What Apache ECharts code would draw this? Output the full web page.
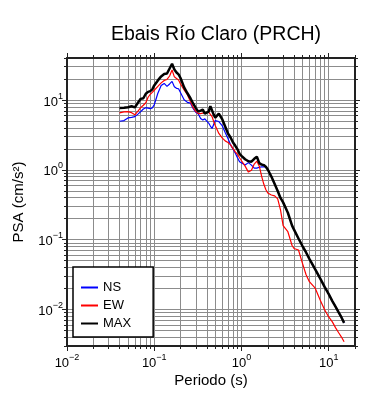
<!DOCTYPE html>
<html>
<head>
<meta charset="utf-8">
<script src="https://cdn.jsdelivr.net/npm/echarts@6/dist/echarts.min.js"></script>
<style>
  html, body { margin: 0; padding: 0; background: #fff; }
  #chart { width: 390px; height: 400px; }
</style>
</head>
<body>
<div id="chart"></div>
<script>
// periods (s) and pseudo-spectral accelerations (cm/s2)
const periods = [0.04, 0.045, 0.05, 0.055, 0.06, 0.065, 0.07, 0.075, 0.08, 0.085, 0.09, 0.095,
  0.1, 0.11, 0.12, 0.13, 0.14, 0.15, 0.16, 0.17, 0.18, 0.19, 0.2,
  0.22, 0.24, 0.26, 0.28, 0.3, 0.32, 0.34, 0.36, 0.38, 0.4, 0.42, 0.44, 0.46, 0.48,
  0.5, 0.55, 0.6, 0.65, 0.7, 0.75, 0.8, 0.85, 0.9, 0.95,
  1.0, 1.1, 1.2, 1.3, 1.4, 1.5, 1.6, 1.7, 1.8, 1.9,
  2.0, 2.2, 2.4, 2.6, 2.8, 3.0,
  3.4, 3.8, 4.0, 4.5, 5.0, 5.5, 6.0,
  7, 8, 9, 10, 11, 12, 13, 14, 15];

const ns = [4.97, 5.08, 5.55, 5.64, 5.79, 6.29, 6.82, 7.45, 7.77, 7.65, 7.52, 7.72,
  8.57, 12.5, 16.2, 17.3, 15.7, 17.0, 18.5, 15.5, 14.7, 14.5, 13.8,
  10.1, 9.25, 9.01, 7.52, 6.67, 6.29, 5.43, 5.17, 5.37, 5.00, 4.68, 4.24, 3.91, 4.04,
  5.08, 4.92, 4.31, 3.43, 2.82, 2.28, 1.97, 1.73, 1.49, 1.31,
  1.25, 1.17, 1.27, 1.17, 1.06, 1.06, 1.09, 1.10, 1.10, 1.10,
  1.01, 0.801, 0.626, 0.498, 0.396, 0.342,
  0.243, 0.159, 0.139, 0.104, 0.0811, 0.0656, 0.0530,
  0.0376, 0.0276, 0.0209, 0.0166, 0.0132, 0.0109, 0.00907, 0.0077, 0.00643];

const ew = [6.54, 6.75, 6.82, 6.60, 6.14, 6.93, 7.77, 8.43, 9.15, 10.96, 12.1, 12.9,
  13.8, 15.7, 17.6, 19.1, 19.7, 22.1, 26.9, 21.5, 20.4, 19.4, 17.0,
  14.0, 11.9, 9.46, 7.77, 6.82, 6.39, 6.39, 6.50, 6.60, 6.71, 6.71, 6.50, 5.79, 4.92,
  4.31, 3.32, 2.87, 2.60, 2.47, 2.28, 2.01, 1.81, 1.67, 1.49,
  1.35, 1.13, 0.928, 0.990, 1.21, 1.33, 1.13, 0.814, 0.626, 0.523,
  0.467, 0.437, 0.423, 0.384, 0.268, 0.159,
  0.130, 0.0824, 0.0747, 0.0712, 0.0458, 0.0314, 0.0250,
  0.0202, 0.0136, 0.00984, 0.00782, 0.00664, 0.00546, 0.00464, 0.00403, 0.00345];

const maxv = [7.70, 7.77, 7.90, 8.16, 7.85, 9.15, 10.4, 10.6, 12.3, 13.1, 13.4, 14.2,
  16.2, 19.1, 21.8, 23.6, 24.0, 28.3, 33.0, 27.4, 24.8, 23.3, 20.7,
  15.2, 12.5, 10.6, 8.86, 7.65, 6.82, 7.05, 7.28, 6.39, 6.50, 6.82, 8.16, 8.03, 6.18,
  5.61, 6.39, 5.34, 4.18, 3.32, 2.91, 2.47, 2.21, 1.97, 1.70,
  1.59, 1.42, 1.33, 1.31, 1.44, 1.54, 1.25, 1.19, 1.17, 1.11,
  1.01, 0.801, 0.626, 0.498, 0.396, 0.342,
  0.243, 0.159, 0.139, 0.104, 0.0811, 0.0656, 0.0530,
  0.0376, 0.0276, 0.0209, 0.0166, 0.0132, 0.0109, 0.00907, 0.0077, 0.00643];

const xRange = [0.01, 20];
const yRange = [0.003, 40];
const xMajor = [0.01, 0.1, 1, 10];
const yMajor = [0.01, 0.1, 1, 10];

// 1..9 x 10^k positions inside a range (tick/grid positions)
function minorValues(r) {
  const out = [];
  for (let e = -4; e <= 3; e++) {
    for (let m = 1; m <= 9; m++) {
      const v = +(m * Math.pow(10, e)).toPrecision(6);
      if (v >= r[0] && v <= r[1]) out.push(v);
    }
  }
  return out;
}
const xMinor = minorValues(xRange);
const yMinor = minorValues(yRange);

const FONT = 'Liberation Sans';
const frame = { color: '#222', width: 2 };
const gridLine = { color: '#8c8c8c', width: 1 };

function powLabel(v) {
  const e = Math.round(Math.log10(v));
  return '{b|10}{s|' + (e < 0 ? '\u2212' + (-e) : e) + '}';
}
const labelRich = {
  b: { fontSize: 13, fontFamily: FONT, color: '#000', lineHeight: 17, verticalAlign: 'bottom' },
  s: { fontSize: 9, fontFamily: FONT, color: '#000', lineHeight: 11, verticalAlign: 'top' }
};

function makeAxis(range, pos, minor, major, withLine, withLabel, extra) {
  return Object.assign({
    type: 'log',
    logBase: 10,
    position: pos,
    min: range[0],
    max: range[1],
    axisLine: { show: withLine, onZero: false, lineStyle: frame },
    axisTick: {
      show: true,
      inside: false,
      length: minor ? 3 : 5,
      customValues: minor ? minor : major,
      lineStyle: { color: '#222', width: 1 }
    },
    axisLabel: withLabel ? {
      show: true,
      customValues: major,
      formatter: powLabel,
      rich: labelRich
    } : { show: false },
    splitLine: { show: false },
    minorTick: { show: false },
    axisPointer: { show: false }
  }, extra || {});
}

const xAxes = [
  makeAxis(xRange, 'bottom', xMinor, null, true, false, {
    splitLine: { show: true, lineStyle: gridLine },
    name: 'Periodo (s)',
    nameLocation: 'middle',
    nameGap: 27,
    nameTextStyle: { fontSize: 15, fontFamily: FONT, color: '#000' }
  }),
  makeAxis(xRange, 'bottom', null, xMajor, false, true),
  makeAxis(xRange, 'top', xMinor, null, true, false),
  makeAxis(xRange, 'top', null, xMajor, false, false)
];
xAxes[1].axisLabel.margin = 7;

const yAxes = [
  makeAxis(yRange, 'left', yMinor, null, true, false, {
    splitLine: { show: true, lineStyle: gridLine },
    name: 'PSA (cm/s\u00b2)',
    nameLocation: 'middle',
    nameGap: 41,
    nameRotate: 90,
    nameTextStyle: { fontSize: 15, fontFamily: FONT, color: '#000' }
  }),
  makeAxis(yRange, 'left', null, yMajor, false, true),
  makeAxis(yRange, 'right', yMinor, null, true, false),
  makeAxis(yRange, 'right', null, yMajor, false, false)
];
yAxes[1].axisLabel.margin = 4;

function pairs(vals) {
  return periods.map((p, i) => [p, vals[i]]);
}

const chart = echarts.init(document.getElementById('chart'), null, { renderer: 'canvas' });
chart.setOption({
  backgroundColor: '#fff',
  animation: false,
  title: {
    text: 'Ebais Río Claro (PRCH)',
    left: 211,
    top: 20,
    textAlign: 'center',
    textStyle: { fontSize: 19.5, fontWeight: 'normal', fontFamily: FONT, color: '#000' }
  },
  grid: { left: 67, right: 35, top: 58, bottom: 54 },
  legend: {
    orient: 'vertical',
    left: 73,
    top: 267,
    data: ['NS', 'EW', 'MAX'],
    icon: 'rect',
    itemWidth: 17,
    itemHeight: 2,
    itemGap: 5,
    padding: [14, 22, 7, 8],
    backgroundColor: '#fff',
    borderColor: '#000',
    borderWidth: 1.5,
    borderRadius: 0,
    textStyle: { fontSize: 13, lineHeight: 13, fontFamily: FONT, color: '#000' }
  },
  xAxis: xAxes,
  yAxis: yAxes,
  series: [
    {
      name: 'NS', type: 'line', data: pairs(ns),
      showSymbol: false, symbol: 'none', color: '#0000ff',
      lineStyle: { color: '#0000ff', width: 1.2 }
    },
    {
      name: 'EW', type: 'line', data: pairs(ew),
      showSymbol: false, symbol: 'none', color: '#ff0000',
      lineStyle: { color: '#ff0000', width: 1.2 }
    },
    {
      name: 'MAX', type: 'line', data: pairs(maxv),
      showSymbol: false, symbol: 'none', color: '#000000',
      lineStyle: { color: '#000000', width: 2.5 }
    }
  ]
});
</script>
</body>
</html>
